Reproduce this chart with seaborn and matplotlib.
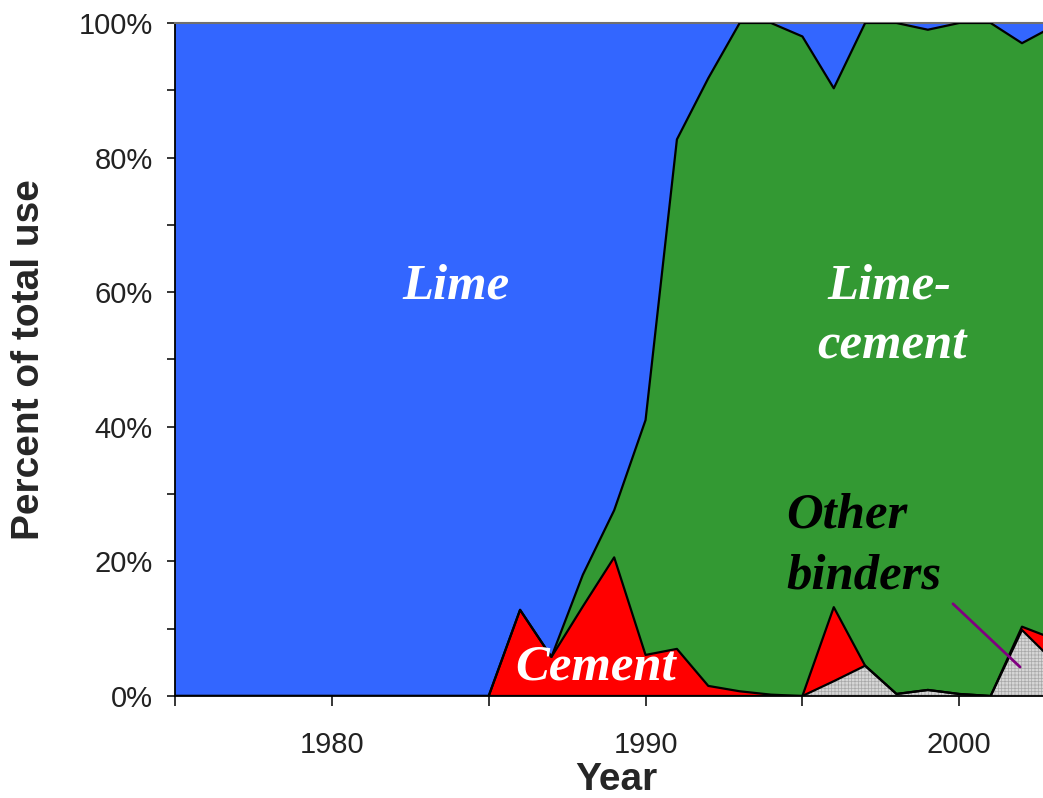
import numpy as np
import pandas as pd
import seaborn as sns
import matplotlib.pyplot as plt
from matplotlib.ticker import MultipleLocator, FixedLocator, FuncFormatter

# data (percent of total use per year)
years = list(range(1975, 2004))
other = [0] * 21 + [2.2, 4.5, 0.3, 0.9, 0.3, 0.0, 9.8, 5.2]
cement = [0] * 11 + [12.8, 5.8, 13.3, 20.6, 6.1, 7.0, 1.5, 0.7, 0.2, 0.0,
                     11.0, 0.0, 0.0, 0.0, 0.0, 0.0, 0.5, 3.3]
lime_cement = [0] * 12 + [0.0, 4.7, 7.0, 34.9, 75.7, 90.3, 99.3, 99.8, 98.0,
                          77.1, 95.5, 99.7, 98.1, 99.7, 100.0, 86.7, 91.0]
lime = [100] * 11 + [87.2, 94.2, 82.0, 72.4, 59.0, 17.3, 8.2, 0.0, 0.0, 2.0,
                     9.7, 0.0, 0.0, 1.0, 0.0, 0.0, 3.0, 0.5]

df = pd.DataFrame({"Year": years, "Other binders": other, "Cement": cement,
                   "Lime-cement": lime_cement, "Lime": lime})
layers = ["Other binders", "Cement", "Lime-cement", "Lime"]
colors = ["#d6d6d6", "#ff0000", "#339933", "#3366ff"]

sns.set_style("ticks")
plt.rcParams["font.family"] = ["Liberation Sans", "DejaVu Sans"]
plt.rcParams["hatch.linewidth"] = 0.5

fig = plt.figure(figsize=(10.43, 7.98), dpi=100)
ax = fig.add_axes([175 / 1043, 1 - 696 / 798, 1 - 175 / 1043, (696 - 23) / 798])

polys = ax.stackplot(df["Year"], *[df[c] for c in layers], colors=colors,
                     edgecolor="none", linewidth=0)
polys[0].set_hatch("+++++")
polys[0].set_edgecolor("#a8a8a8")
polys[0].set_linewidth(0)

# black outlines on each layer boundary
cum = df[layers[:3]].cumsum(axis=1)
for c in layers[:3]:
    sns.lineplot(x=df["Year"], y=cum[c], color="black", lw=1.6, ax=ax,
                 legend=False, zorder=3)

ax.set_xlim(1975, 1975 + 868 / 31.37)
ax.set_ylim(0, 100)

ax.yaxis.set_major_locator(MultipleLocator(20))
ax.yaxis.set_minor_locator(MultipleLocator(10))
ax.yaxis.set_major_formatter(FuncFormatter(lambda v, p: f"{v:.0f}%"))
ax.xaxis.set_major_locator(FixedLocator(range(1975, 2005, 5)))
ax.xaxis.set_major_formatter(FuncFormatter(lambda v, p: f"{v:.0f}" if v % 10 == 0 else ""))

ax.tick_params(axis="y", which="both", length=6, width=1.1, direction="out",
               labelsize=21, pad=10, colors="black", labelcolor="#222222")
ax.tick_params(axis="x", which="major", length=7.5, width=1.1, direction="out",
               labelsize=21, pad=18, colors="black", labelcolor="#222222")

for s in ["left", "bottom"]:
    ax.spines[s].set_linewidth(1.3)
    ax.spines[s].set_color("black")
ax.spines["top"].set_color("#707070")
ax.spines["top"].set_linewidth(1.5)
ax.spines["right"].set_visible(False)

ax.set_ylabel("Percent of total use", fontsize=28, fontweight="bold")
ax.yaxis.label.set(va="center", ha="center")
ax.yaxis.set_label_coords(-0.168, 0.5)
ax.set_xlabel("Year", fontsize=28, fontweight="bold")
ax.xaxis.label.set(va="baseline", ha="center")
ax.xaxis.set_label_coords(0.508, -0.139)

lab = dict(family="Liberation Serif", style="italic", fontweight="bold",
           fontsize=36.5, va="baseline")
ax.text(1983.96, 59.1, "Lime", color="white", ha="center", **lab)
ax.text(1997.76, 59.1, "Lime-", color="white", ha="center", **lab)
ax.text(1997.86, 50.2, "cement", color="white", ha="center", **lab)
ax.text(1994.48, 25.1, "Other", color="black", ha="left", **lab)
ax.text(1994.48, 16.0, "binders", color="black", ha="left", **lab)
ax.text(1988.42, 2.4, "Cement", color="white", ha="center", zorder=4, **lab)

# pointer from the label to the grey area
ax.plot([1999.8, 2001.94], [13.7, 4.3], color="#800080", lw=2, zorder=4)

fig.savefig("out.png", dpi=100)
